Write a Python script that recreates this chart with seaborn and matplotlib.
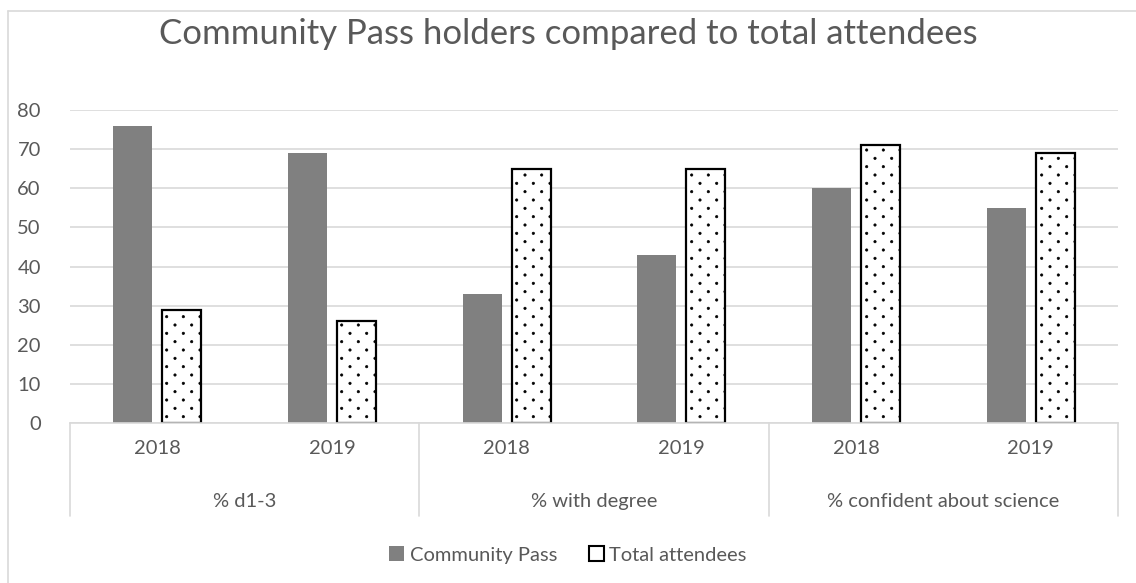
import matplotlib
matplotlib.use("Agg")
import numpy as np
import matplotlib.pyplot as plt
import matplotlib.hatch as mh
from matplotlib.path import Path
import seaborn as sns
import pandas as pd
from matplotlib.patches import Rectangle
from matplotlib.lines import Line2D
import matplotlib.transforms as mtransforms

groups = ["% d1-3", "% with degree", "% confident about science"]
years = ["2018", "2019"]
series = ["Community Pass", "Total attendees"]
community = [76, 69, 33, 43, 60, 55]
total = [29, 26, 65, 65, 71, 69]
yticks = [0, 10, 20, 30, 40, 50, 60, 70, 80]


# sparse staggered dot hatch (style only)
class SparseDots(mh.Shapes):
    size = 0.07
    filled = True

    def __init__(self, hatch, density):
        path = Path.unit_circle()
        self.shape_vertices = path.vertices
        self.shape_codes = path.codes
        n = int(hatch.count('.') * density)
        self.n = n
        if n == 0:
            self.num_shapes = 0
        else:
            self.num_shapes = sum((n + 1 if r % 2 == 0 else n) for r in range(2 * n + 1))
        self.num_vertices = self.num_shapes * len(self.shape_vertices)

    def set_vertices_and_codes(self, vertices, codes):
        n = self.n
        off = 1.0 / n
        sv = self.shape_vertices * off * self.size
        sc = self.shape_codes
        L = len(sv)
        cur = 0
        for r in range(2 * n + 1):
            if r % 2 == 0:
                cols = np.linspace(0, 1, n + 1)
            else:
                cols = np.linspace(off / 2, 1 - off / 2, n)
            yy = r * off / 2
            for xx in cols:
                vertices[cur:cur + L] = sv + (xx, yy)
                codes[cur:cur + L] = sc
                cur += L


mh._hatch_types = [SparseDots if t is mh.SmallFilledCircles else t for t in mh._hatch_types]

rows = []
keys = []
for gi, g in enumerate(groups):
    for yi, y in enumerate(years):
        k = f"{g}|{y}"
        keys.append(k)
        idx = gi * 2 + yi
        rows.append({"key": k, "series": series[0], "value": community[idx]})
        rows.append({"key": k, "series": series[1], "value": total[idx]})
df = pd.DataFrame(rows)

sns.set_theme(style="white")
plt.rcParams["font.family"] = ["Lato", "DejaVu Sans"]
plt.rcParams["hatch.linewidth"] = 0.5
TXT = "#595959"
GRID = "#d9d9d9"

fig = plt.figure(figsize=(11.36, 5.83), dpi=100)
ax = fig.add_axes([70 / 1136, 1 - 423 / 583, (1118 - 70) / 1136, (423 - 110) / 583])

sns.barplot(data=df, x="key", y="value", hue="series", order=keys, hue_order=series,
            palette=["#808080", "white"], width=0.56, gap=0.2, ax=ax, legend=False,
            saturation=1)

for i, p in enumerate(ax.patches):
    if i >= len(keys):
        p.set_hatch(".")
        p.set_edgecolor("black")
        p.set_linewidth(1.6)
    else:
        p.set_edgecolor("none")

ax.set_ylim(0, 80)
ax.set_xlim(-0.5, len(keys) - 0.5)
ax.set_yticks(yticks)
ax.set_yticklabels([str(t) for t in yticks], color=TXT, fontsize=14.5)
ax.yaxis.grid(True, color=GRID, linewidth=1.2)
ax.set_axisbelow(True)
ax.set_xticks(range(len(keys)))
ax.set_xticklabels([k.split("|")[1] for k in keys], color=TXT, fontsize=14.5)
ax.tick_params(axis="x", length=0, pad=12)
ax.tick_params(axis="y", length=0, pad=21)
ax.set_xlabel("")
ax.set_ylabel("")
for s in ["top", "right", "left"]:
    ax.spines[s].set_visible(False)
ax.spines["bottom"].set_color(GRID)
ax.spines["bottom"].set_linewidth(1.2)

trans = mtransforms.blended_transform_factory(ax.transData, ax.transAxes)
for b in [-0.5, 1.5, 3.5, 5.5]:
    ax.add_line(Line2D([b, b], [0, -0.297], transform=trans, color=GRID, lw=1.2, clip_on=False))
for gi, g in enumerate(groups):
    ax.text(gi * 2 + 0.5, -0.252, g, transform=trans, ha="center", va="center",
            color=TXT, fontsize=14.5)

fig.text(0.5, 1 - 34 / 583, "Community Pass holders compared to total attendees",
         ha="center", va="center", color=TXT, fontsize=25)

handles = [Rectangle((0, 0), 1, 1, facecolor="#808080", edgecolor="none"),
           Rectangle((0, 0), 1, 1, facecolor="white", edgecolor="black", lw=1.5)]
fig.legend(handles, series, loc="center", bbox_to_anchor=(0.5, 1 - 555 / 583), ncol=2,
           frameon=False, fontsize=14.5, labelcolor=TXT, handlelength=0.75, handleheight=0.75,
           handletextpad=0.25, columnspacing=1.6)

fig.add_artist(Line2D([7.5 / 1136, 7.5 / 1136], [0, 1 - 11 / 583], transform=fig.transFigure,
                      color=GRID, lw=1.2))
fig.add_artist(Line2D([7.5 / 1136, 1], [1 - 11 / 583, 1 - 11 / 583], transform=fig.transFigure,
                      color=GRID, lw=1.2))

fig.savefig("out.png", dpi=100)
